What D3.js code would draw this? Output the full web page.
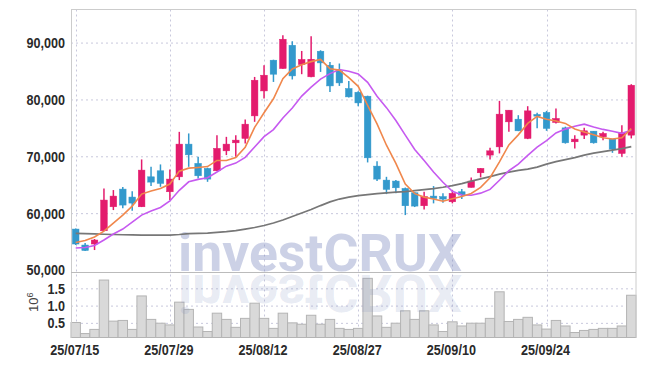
<!DOCTYPE html>
<html>
<head>
<meta charset="utf-8">
<script src="https://cdn.jsdelivr.net/npm/d3@7"></script>
<style>
  body { margin: 0; background: #fff; }
  svg { display: block; }
  .tick-label { font-family: "Liberation Sans", Arial, sans-serif; font-weight: bold; font-size: 15px; fill: #2a2a2a; }
</style>
</head>
<body>
<div class="chart"></div>
<script>
// trading days shown on the chart
const dates = [
  '25/07/15', '25/07/16', '25/07/17', '25/07/18', '25/07/21', '25/07/22', '25/07/23', '25/07/24', '25/07/25', '25/07/28',
  '25/07/29', '25/07/30', '25/07/31', '25/08/01', '25/08/04', '25/08/05', '25/08/06', '25/08/07', '25/08/08', '25/08/11',
  '25/08/12', '25/08/13', '25/08/14', '25/08/18', '25/08/19', '25/08/20', '25/08/21', '25/08/22', '25/08/25', '25/08/26',
  '25/08/27', '25/08/28', '25/08/29', '25/09/01', '25/09/02', '25/09/03', '25/09/04', '25/09/05', '25/09/08', '25/09/09',
  '25/09/10', '25/09/11', '25/09/12', '25/09/15', '25/09/16', '25/09/17', '25/09/18', '25/09/19', '25/09/22', '25/09/23',
  '25/09/24', '25/09/25', '25/09/26', '25/09/29', '25/09/30', '25/10/01', '25/10/02', '25/10/10', '25/10/13', '25/10/14'
];

const open = [
  57200, 54390, 54570, 56900, 61120, 64230, 62830, 61120, 66390, 67450,
  63760, 66390, 72140, 68750, 67870, 67450, 70960, 72370, 73140, 77110,
  81500, 86900, 85440, 89530, 86140, 83980, 88480, 86020, 85020, 81920,
  81270, 80570, 68270, 65810, 65640, 64350, 63580, 61300, 63000, 62910,
  62000, 63760, 64530, 67100, 70210, 71660, 76060, 76530, 73140, 77360,
  77710, 75950, 75000, 72550, 73720, 74420, 73420, 73020, 70500, 73720
];
const high = [
  57300, 54740, 55450, 64350, 64060, 64580, 63830, 69450, 68150, 68570,
  67690, 74300, 74020, 69910, 68000, 73720, 73420, 73720, 76480, 83960,
  86020, 86990, 91290, 90240, 88530, 91110, 88650, 86600, 86320, 83260,
  81450, 80660, 69150, 66390, 65810, 64500, 63700, 63760, 64760, 63480,
  64060, 64230, 66290, 67920, 71490, 79750, 78110, 77230, 78810, 77640,
  77990, 78410, 75210, 73720, 75000, 74420, 74300, 73020, 75480, 82680
];
const low = [
  54400, 53340, 53510, 56850, 60540, 60840, 60420, 61070, 64760, 64640,
  62300, 65810, 68150, 66110, 65510, 67400, 70210, 69910, 72260, 76060,
  80170, 83080, 85400, 83510, 84440, 83910, 84840, 81330, 82380, 80340,
  78810, 68920, 65640, 63350, 63480, 59660, 61070, 60660, 61720, 61830,
  61720, 62470, 64500, 66290, 69450, 70510, 74300, 74430, 73020, 74950,
  74480, 75780, 72230, 71380, 73020, 72230, 72840, 70610, 69910, 73140
];
const close = [
  54570, 53430, 55270, 62300, 63000, 61420, 61770, 67570, 65460, 65230,
  65990, 72140, 70260, 66570, 65990, 71390, 72140, 72840, 75650, 83380,
  84260, 84440, 90590, 84140, 87030, 87070, 86430, 82380, 82910, 80450,
  79390, 69730, 65990, 64180, 64460, 61300, 61240, 62910, 62600, 62470,
  63480, 63180, 65640, 67870, 70960, 77410, 78110, 74480, 77990, 77060,
  74900, 76650, 72370, 73020, 74480, 72370, 74020, 71260, 74190, 82500
];

// volume, in 10^6 shares
const volume = [
  0.51, 0.19, 0.31, 1.74, 0.55, 0.57, 0.31, 1.28, 0.60, 0.49,
  0.44, 1.10, 0.89, 0.38, 0.25, 0.78, 0.60, 0.37, 0.63, 1.07,
  0.63, 0.34, 0.78, 0.50, 0.46, 0.72, 0.46, 0.60, 0.34, 0.31,
  0.34, 1.79, 0.70, 0.37, 0.49, 0.85, 0.60, 0.85, 0.44, 0.25,
  0.53, 0.41, 0.49, 0.49, 0.63, 1.40, 0.54, 0.60, 0.66, 0.44,
  0.32, 0.57, 0.41, 0.22, 0.28, 0.31, 0.34, 0.34, 0.41, 1.30
];

// moving averages as plotted
const ma5 = [
  54830, 55180, 55800, 56850, 58260, 59660, 61240, 63350, 63880, 64320,
  65110, 67390, 67920, 68040, 68190, 69270, 69270, 69790, 71600, 75080,
  77650, 80110, 83660, 85360, 86090, 86650, 87050, 85410, 85160, 83850,
  82310, 78970, 75690, 71950, 68750, 65130, 63430, 62820, 62500, 62100,
  62540, 62930, 63470, 64530, 66230, 69010, 72000, 73770, 75790, 77010,
  76510, 76220, 75790, 74800, 74280, 73780, 73250, 73030, 73260, 74870
];
const ma10 = [
  53870, 53950, 54300, 55270, 56330, 57200, 58430, 59660, 60370, 61000,
  62140, 64020, 65510, 65940, 66240, 67240, 68270, 68800, 69820, 71640,
  73460, 74690, 76730, 78480, 80590, 82150, 83580, 84540, 85260, 84970,
  84480, 83010, 80550, 78560, 76300, 73720, 71200, 69260, 67230, 65430,
  63840, 63180, 63150, 63520, 64170, 65780, 67460, 68620, 70160, 71620,
  72760, 74110, 74780, 75300, 75650, 75140, 74730, 74410, 74030, 74580
];
const maLong = [
  56450, 56400, 56340, 56290, 56240, 56200, 56170, 56150, 56150, 56150,
  56150, 56240, 56410, 56450, 56500, 56620, 56760, 56940, 57200, 57470,
  57820, 58260, 58790, 59400, 60020, 60630, 61330, 61980, 62480, 62830,
  63090, 63270, 63440, 63580, 63710, 63790, 63970, 64140, 64320, 64550,
  64850, 65200, 65640, 66020, 66430, 66870, 67220, 67520, 67750, 68100,
  68620, 69060, 69420, 69770, 70210, 70560, 70820, 71080, 71350, 71700
];

const priceTicks = [50000, 60000, 70000, 80000, 90000];
const volumeTicks = [0.5, 1.0, 1.5];
const dateTicks = ['25/07/15', '25/07/29', '25/08/12', '25/08/27', '25/09/10', '25/09/24'];

let width = 645, height = 366;
let plotL = 71, plotR = 636, plotT = 9.5, split = 272.5, plotB = 337.5;

let svg = d3.select('.chart').append('svg')
  .attr('width', width)
  .attr('height', height);

let x = d3.scaleBand().domain(dates).range([plotL, plotR]).padding(0);
let cx = d => x(d) + x.bandwidth() / 2;
let y = d3.scaleLinear().domain([49560, 95820]).range([split, plotT]);
let yVol = d3.scaleLinear().domain([0.0756, 1.959]).range([plotB, split]);

let gridColor = '#c8c8dc';

// gridlines
svg.append('g')
  .attr('transform', `translate(${plotL},0)`)
  .call(d3.axisLeft(y).tickValues(priceTicks.slice(1)).tickSize(-(plotR - plotL)).tickFormat(''))
  .call(g => g.select('.domain').remove())
  .call(g => g.selectAll('line').attr('stroke', gridColor).attr('stroke-dasharray', '2,3'));

svg.append('g')
  .attr('transform', `translate(${plotL},0)`)
  .call(d3.axisLeft(yVol).tickValues(volumeTicks).tickSize(-(plotR - plotL)).tickFormat(''))
  .call(g => g.select('.domain').remove())
  .call(g => g.selectAll('line').attr('stroke', gridColor).attr('stroke-dasharray', '2,3'));

svg.append('g')
  .selectAll('line')
  .data(dateTicks)
  .enter().append('line')
  .attr('x1', d => Math.round(cx(d)) + 0.5)
  .attr('x2', d => Math.round(cx(d)) + 0.5)
  .attr('y1', plotT)
  .attr('y2', plotB)
  .attr('stroke', gridColor)
  .attr('stroke-dasharray', '2,3');

// volume bars
svg.append('g')
  .selectAll('rect')
  .data(volume)
  .enter().append('rect')
  .attr('x', (d, i) => x(dates[i]))
  .attr('width', x.bandwidth())
  .attr('y', d => yVol(d))
  .attr('height', d => plotB - yVol(d))
  .attr('fill', '#d9d9d9')
  .attr('stroke', '#b4b4b4')
  .attr('stroke-width', 1);

// watermark, reflection drawn by reusing the same text
let defs = svg.append('defs');
defs.append('text')
  .attr('id', 'wm')
  .text('investCRUX')
  .attr('x', 178).attr('y', 271)
  .attr('textLength', 284).attr('lengthAdjust', 'spacingAndGlyphs')
  .style('font-family', 'Roboto, "DejaVu Sans", sans-serif')
  .style('font-weight', 'bold')
  .style('font-size', '51px');
svg.append('use').attr('href', '#wm').attr('fill', 'rgba(120,135,190,0.38)');
svg.append('use').attr('href', '#wm')
  .attr('transform', `translate(0, ${2 * 273}) scale(1,-1)`)
  .attr('fill', 'rgba(120,135,190,0.18)');

// frame
let frame = svg.append('g').attr('stroke', '#cccccc').attr('stroke-width', 1);
frame.append('line').attr('x1', plotL).attr('x2', plotR).attr('y1', plotT).attr('y2', plotT);
frame.append('line').attr('x1', plotL + 0.5).attr('x2', plotL + 0.5).attr('y1', plotT).attr('y2', plotB);
frame.append('line').attr('x1', plotR).attr('x2', plotR).attr('y1', plotT).attr('y2', plotB);
frame.append('line').attr('x1', plotL).attr('x2', plotR).attr('y1', split).attr('y2', split).attr('stroke', '#bbbbbb');

// candles
let upColor = '#e31b6d', downColor = '#3399cc';
let bodyW = x.bandwidth() * 0.7;
let candles = svg.append('g')
  .selectAll('g')
  .data(dates)
  .enter().append('g')
  .attr('fill', (d, i) => close[i] >= open[i] ? upColor : downColor)
  .attr('stroke', (d, i) => close[i] >= open[i] ? upColor : downColor);

candles.append('line')
  .attr('x1', d => cx(d)).attr('x2', d => cx(d))
  .attr('y1', (d, i) => y(high[i]))
  .attr('y2', (d, i) => y(low[i]))
  .attr('stroke-width', 1.5);

candles.append('rect')
  .attr('x', d => cx(d) - bodyW / 2)
  .attr('width', bodyW)
  .attr('y', (d, i) => y(Math.max(open[i], close[i])))
  .attr('height', (d, i) => Math.max(1, Math.abs(y(open[i]) - y(close[i]))))
  .attr('stroke-width', 0.5);

// moving average lines
let line = arr => d3.line().x((d, i) => cx(dates[i])).y(d => y(d))(arr);
svg.append('path').attr('d', line(maLong)).attr('fill', 'none').attr('stroke', '#777777').attr('stroke-width', 1.7);
svg.append('path').attr('d', line(ma10)).attr('fill', 'none').attr('stroke', '#c65af0').attr('stroke-width', 1.6);
svg.append('path').attr('d', line(ma5)).attr('fill', 'none').attr('stroke', '#f0874c').attr('stroke-width', 1.6);

// condensed look for the tick labels
let squeeze = function () {
  let w = this.getComputedTextLength();
  d3.select(this).attr('textLength', w * 0.84).attr('lengthAdjust', 'spacingAndGlyphs');
};

// axis labels
svg.append('g')
  .selectAll('text')
  .data(priceTicks)
  .enter().append('text')
  .attr('class', 'tick-label')
  .attr('x', 65)
  .attr('y', d => y(d) + 5.5)
  .attr('text-anchor', 'end')
  .text(d => d3.format(',')(d))
  .each(squeeze);

svg.append('g')
  .selectAll('text')
  .data(volumeTicks)
  .enter().append('text')
  .attr('class', 'tick-label')
  .attr('x', 65)
  .attr('y', d => yVol(d) + 5.5)
  .attr('text-anchor', 'end')
  .text(d => d3.format('.1f')(d))
  .each(squeeze);

let unit = svg.append('text')
  .attr('transform', 'translate(38, 312) rotate(-90)')
  .style('font-family', '"Liberation Sans", sans-serif')
  .style('font-size', '13px')
  .attr('fill', '#444');
unit.append('tspan').text('10');
unit.append('tspan').text('6').attr('dy', -5).style('font-size', '9px');

svg.append('g')
  .selectAll('text')
  .data(dateTicks)
  .enter().append('text')
  .attr('class', 'tick-label')
  .attr('x', d => cx(d) - 1)
  .attr('y', 355)
  .attr('text-anchor', 'middle')
  .text(d => d)
  .each(squeeze);
</script>
</body>
</html>
